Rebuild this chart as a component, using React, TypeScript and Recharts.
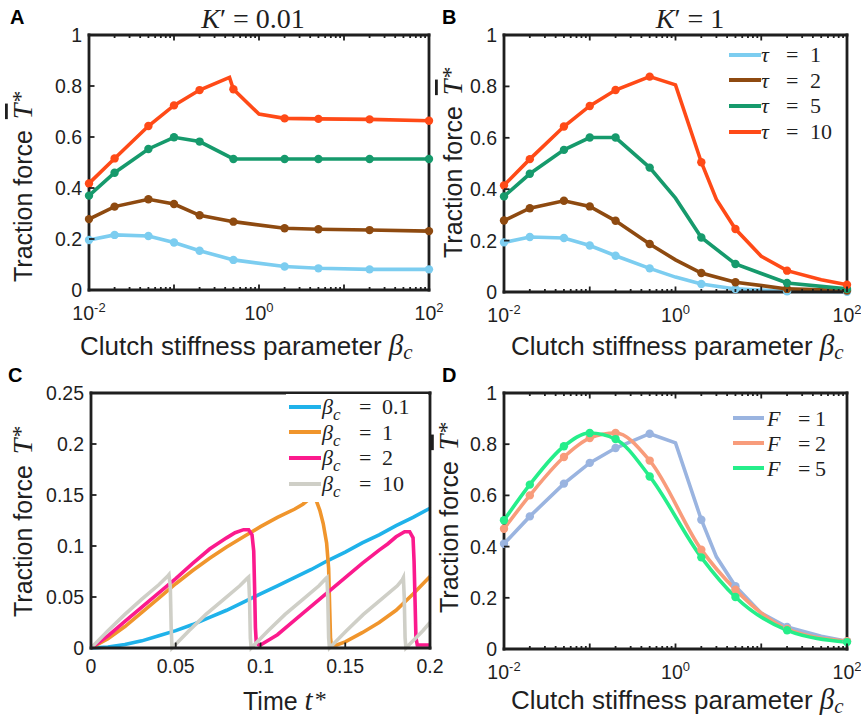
import React from 'react';
import { LineChart, Line, XAxis, YAxis, Legend } from 'recharts';

const W = 861;
const H = 720;
const SANS = '"Liberation Sans", Arial, Helvetica, sans-serif';
const SERIF = '"Liberation Serif", "Times New Roman", Times, serif';
const INK = '#1f1f1f';

// ---------------- Panel A : K' = 0.01 ----------------
const betaA = [0.01, 0.02, 0.05, 0.1, 0.2, 0.45, 0.5, 1, 2, 5, 20, 100];
const aTau1 = [0.196, 0.216, 0.212, 0.186, 0.154, null, 0.118, null, 0.092, 0.085, 0.081, 0.081];
const aTau2 = [0.278, 0.327, 0.356, 0.337, 0.293, null, 0.268, null, 0.242, 0.238, 0.235, 0.231];
const aTau5 = [0.37, 0.46, 0.553, 0.599, 0.582, null, 0.514, null, 0.514, 0.514, 0.514, 0.514];
const aTau10 = [0.418, 0.516, 0.643, 0.724, 0.784, 0.834, 0.787, 0.69, 0.673, 0.671, 0.669, 0.664];

// ---------------- Panel B : K' = 1 ----------------
const betaB = [0.01, 0.02, 0.05, 0.1, 0.2, 0.5, 1, 2, 3, 5, 10, 20, 50, 100];
const bTau1 = [0.193, 0.214, 0.21, 0.181, 0.141, 0.092, 0.058, 0.031, null, 0.012, null, 0.003, null, 0.001];
const bTau2 = [0.278, 0.326, 0.355, 0.333, 0.277, 0.187, 0.125, 0.074, null, 0.038, null, 0.012, null, 0.006];
const bTau5 = [0.372, 0.46, 0.553, 0.601, 0.601, 0.484, 0.365, 0.212, null, 0.109, null, 0.035, null, 0.012];
const bTau10 = [0.415, 0.517, 0.644, 0.724, 0.786, 0.838, 0.806, 0.505, 0.36, 0.245, 0.139, 0.083, 0.048, 0.028];

// ---------------- Panel D : varying F ----------------
const betaD = [0.01, 0.02, 0.05, 0.1, 0.2, 0.5, 1, 2, 3, 5, 10, 20, 50, 100];
const dF1 = [0.411, 0.518, 0.646, 0.727, 0.785, 0.841, 0.805, 0.505, 0.36, 0.245, 0.14, 0.086, 0.05, 0.03];
const dF2 = [0.47, 0.6, 0.75, 0.824, 0.844, 0.736, null, 0.388, null, 0.232, null, 0.078, null, 0.03];
const dF5 = [0.503, 0.642, 0.792, 0.844, 0.82, 0.674, null, 0.358, null, 0.203, null, 0.073, null, 0.027];

// β_c values that carry a marker
const markedBetas = [0.01, 0.02, 0.05, 0.1, 0.2, 0.5, 2, 5, 20, 100];

// ---------------- Panel C : time traces [t*, T*] ----------------
const cBeta01 = [
  [0, 0], [0.01, 0.001], [0.02, 0.0035], [0.03, 0.007], [0.04, 0.012], [0.05, 0.017], [0.06, 0.023],
  [0.07, 0.03], [0.08, 0.037], [0.09, 0.045], [0.1, 0.053], [0.11, 0.061], [0.12, 0.069], [0.13, 0.077],
  [0.14, 0.086], [0.15, 0.094], [0.16, 0.103], [0.17, 0.111], [0.18, 0.12], [0.19, 0.128], [0.2, 0.137],
];
const cBeta1 = [
  [0, 0], [0.01, 0.009], [0.02, 0.021], [0.03, 0.035], [0.04, 0.049], [0.05, 0.063], [0.06, 0.076],
  [0.07, 0.088], [0.08, 0.099], [0.09, 0.109], [0.1, 0.119], [0.11, 0.128], [0.12, 0.136], [0.125, 0.141],
  [0.128, 0.145], [0.131, 0.147], [0.133, 0.144], [0.135, 0.135], [0.137, 0.122], [0.139, 0.103],
  [0.1402, 0.078], [0.1408, 0.04], [0.1413, 0.01], [0.1418, 0.003], [0.145, 0.003], [0.15, 0.006],
  [0.16, 0.015], [0.17, 0.025], [0.18, 0.037], [0.19, 0.053], [0.2, 0.07],
];
const cBeta2 = [
  [0, 0], [0.01, 0.012], [0.02, 0.026], [0.03, 0.04], [0.04, 0.054], [0.05, 0.068], [0.06, 0.083],
  [0.07, 0.097], [0.08, 0.108], [0.085, 0.113], [0.09, 0.116], [0.093, 0.116], [0.095, 0.111],
  [0.096, 0.095], [0.0965, 0.06], [0.097, 0.02], [0.0975, 0.005], [0.099, 0.003], [0.1, 0.003],
  [0.11, 0.013], [0.12, 0.027], [0.13, 0.041], [0.14, 0.055], [0.15, 0.069], [0.16, 0.083], [0.17, 0.096],
  [0.175, 0.102], [0.18, 0.109], [0.185, 0.114], [0.188, 0.114], [0.19, 0.108], [0.1906, 0.085],
  [0.1912, 0.045], [0.1917, 0.01], [0.1925, 0.003], [0.2, 0.003],
];
const cBeta10 = [
  [0, 0], [0.01, 0.017], [0.02, 0.033], [0.03, 0.048], [0.04, 0.062], [0.045, 0.07], [0.046, 0.072],
  [0.0468, 0.06], [0.0473, 0.02], [0.0478, 0],
  [0.0578, 0.017], [0.0678, 0.033], [0.0778, 0.047], [0.0878, 0.061], [0.092, 0.068], [0.093, 0.0695],
  [0.0935, 0.05], [0.094, 0.01], [0.0945, 0],
  [0.1045, 0.017], [0.1145, 0.033], [0.1245, 0.047], [0.1345, 0.061], [0.1385, 0.068], [0.1392, 0.069],
  [0.1397, 0.05], [0.1402, 0.01], [0.1407, 0],
  [0.1507, 0.017], [0.1607, 0.033], [0.1707, 0.047], [0.1807, 0.061], [0.1837, 0.067], [0.1843, 0.069],
  [0.1848, 0.05], [0.1853, 0.01], [0.1858, 0],
  [0.1958, 0.017], [0.2, 0.025],
];

// ---------------- ticks ----------------
const logDecades = [0.01, 0.1, 1, 10];
const logMantissas = [1, 2, 3, 4, 5, 6, 7, 8, 9];
const logTicks = [...logDecades.flatMap((d) => logMantissas.map((m) => Number((m * d).toPrecision(6)))), 100];
const logMajors = [0.01, 0.1, 1, 10, 100];
const logLabelValues = [0.01, 1, 100];
const logLabelExps = ['-2', '0', '2'];
const fracTicks = [0, 0.2, 0.4, 0.6, 0.8, 1];
const fracLabels = ['0', '0.2', '0.4', '0.6', '0.8', '1'];
const timeTicks = [0, 0.05, 0.1, 0.15, 0.2];
const timeLabels = ['0', '0.05', '0.1', '0.15', '0.2'];
const forceTicks = [0, 0.05, 0.1, 0.15, 0.2, 0.25];
const forceLabels = ['0', '0.05', '0.1', '0.15', '0.2', '0.25'];

// ---------------- series styles ----------------
const tauSeries = [
  { key: 'tau1', color: '#7ccdf0', val: '1' },
  { key: 'tau2', color: '#8e4a10', val: '2' },
  { key: 'tau5', color: '#169a6c', val: '5' },
  { key: 'tau10', color: '#ff4a17', val: '10' },
];
const fSeries = [
  { key: 'f1', color: '#9ab4e0', val: '1', curve: 'linear' },
  { key: 'f2', color: '#f89c7b', val: '2', curve: 'monotone' },
  { key: 'f5', color: '#25ee8a', val: '5', curve: 'monotone' },
];
const cSeries = [
  { data: cBeta01, color: '#1fb2ea', val: '0.1' },
  { data: cBeta1, color: '#f0952c', val: '1' },
  { data: cBeta2, color: '#fb1a8d', val: '2' },
  { data: cBeta10, color: '#cfcfc7', val: '10' },
];

type Box = { l: number; r: number; t: number; b: number };
const BOX_A: Box = { l: 89, r: 429, t: 35, b: 290 };
const BOX_B: Box = { l: 504, r: 847, t: 35, b: 292 };
const BOX_C: Box = { l: 91, r: 430, t: 393, b: 648 };
const BOX_D: Box = { l: 504, r: 847, t: 393, b: 649 };

const near = (a: number, b: number) => Math.abs(a - b) <= 1e-9 * Math.max(Math.abs(a), Math.abs(b), 1e-9);
const fromList = (vals: number[], labels: string[]) => (v: number) => {
  const i = vals.findIndex((x) => near(x, v));
  return i >= 0 ? labels[i] : null;
};
const logLabel = (v: number) => {
  const i = logLabelValues.findIndex((x) => near(x, v));
  if (i < 0) return null;
  return [
    <tspan key="m">10</tspan>,
    <tspan key="e" dy={-8} fontSize={13}>{logLabelExps[i]}</tspan>,
  ];
};
const noLabel = () => null;
const allMajor = () => true;

type Side = 'bottom' | 'top' | 'left' | 'right';
function makeTick(side: Side, isMajor: (v: number) => boolean, label: (v: number) => any, gap: number) {
  return (p: any) => {
    const v: number = p.payload ? p.payload.value : 0;
    const x: number = p.x;
    const y: number = p.y;
    const len = isMajor(v) ? 5.5 : 3;
    let d = '';
    if (side === 'bottom') d = `M${x},${y}L${x},${y - len}`;
    else if (side === 'top') d = `M${x},${y}L${x},${y + len}`;
    else if (side === 'left') d = `M${x},${y}L${x + len},${y}`;
    else d = `M${x},${y}L${x - len},${y}`;
    const lab = label(v);
    return (
      <g>
        <path d={d} stroke={INK} strokeWidth={1.8} fill="none" />
        {lab != null && side === 'bottom' && (
          <text x={x} y={y + gap} textAnchor="middle" fontFamily={SANS} fontSize={19.5} fill={INK}>
            {lab}
          </text>
        )}
        {lab != null && side === 'left' && (
          <text x={x - gap} y={y + 7} textAnchor="end" fontFamily={SANS} fontSize={19.5} fill={INK}>
            {lab}
          </text>
        )}
      </g>
    );
  };
}

const AXIS_LINE = { stroke: INK, strokeWidth: 2.8, strokeLinecap: 'square' as const };

type XCfg = { key: string; scale: 'log' | 'linear'; domain: [number, number]; ticks: number[]; isMajor: (v: number) => boolean; label: (v: number) => any; gap: number };
type YCfg = { domain: [number, number]; ticks: number[]; label: (v: number) => any };
type Titles = { bottom?: () => any; top?: () => any; left?: () => any };

function frameAxes(box: Box, x: XCfg, y: YCfg, titles: Titles) {
  return [
    <XAxis
      key="xb" xAxisId="b" orientation="bottom" dataKey={x.key} type="number" scale={x.scale}
      domain={x.domain} ticks={x.ticks} interval={0} height={H - box.b} tickSize={0} tickMargin={0}
      tickLine={false} axisLine={AXIS_LINE} tick={makeTick('bottom', x.isMajor, x.label, x.gap)}
      label={titles.bottom ? { content: titles.bottom } : undefined}
    />,
    <XAxis
      key="xt" xAxisId="t" orientation="top" dataKey={x.key} type="number" scale={x.scale}
      domain={x.domain} ticks={x.ticks} interval={0} height={1} tickSize={0} tickMargin={0}
      tickLine={false} axisLine={AXIS_LINE} tick={makeTick('top', x.isMajor, noLabel, 0)}
      label={titles.top ? { content: titles.top } : undefined}
    />,
    <YAxis
      key="yl" yAxisId="l" orientation="left" type="number" domain={y.domain} ticks={y.ticks}
      interval={0} width={box.l} tickSize={0} tickMargin={0} tickLine={false} axisLine={AXIS_LINE}
      tick={makeTick('left', allMajor, y.label, 7)}
      label={titles.left ? { content: titles.left } : undefined}
    />,
    <YAxis
      key="yr" yAxisId="r" orientation="right" type="number" domain={y.domain} ticks={y.ticks}
      interval={0} width={1} tickSize={0} tickMargin={0} tickLine={false} axisLine={AXIS_LINE}
      tick={makeTick('right', allMajor, noLabel, 0)}
    />,
  ];
}

const chartMargin = (box: Box) => ({ top: box.t - 1, right: W - box.r - 1, bottom: 0, left: 0 });

const logX: XCfg = {
  key: 'beta', scale: 'log', domain: [0.01, 100], ticks: logTicks,
  isMajor: (v) => logMajors.some((m) => near(m, v)), label: logLabel, gap: 30,
};
const fracY: YCfg = { domain: [0, 1], ticks: fracTicks, label: fromList(fracTicks, fracLabels) };

// ---------------- text pieces ----------------
function PanelLetter({ x, y, ch }: { x: number; y: number; ch: string }) {
  return (
    <text x={x} y={y} fontFamily={SANS} fontWeight="bold" fontSize={20} fill="#000">{ch}</text>
  );
}
function KTitle({ cx, val }: { cx: number; val: string }) {
  return (
    <text x={cx} y={28} textAnchor="middle" fontFamily={SERIF} fontSize={28} fill={INK}>
      <tspan fontStyle="italic">K</tspan>
      <tspan>{'\u2032 = ' + val}</tspan>
    </text>
  );
}
function BetaTitle({ x, y }: { x: number; y: number }) {
  return (
    <text x={x} y={y} fontFamily={SANS} fontSize={26} fill={INK}>
      {'Clutch stiffness parameter '}
      <tspan fontFamily={SERIF} fontStyle="italic" fontSize={29}>β</tspan>
      <tspan fontFamily={SERIF} fontStyle="italic" fontSize={21} dy={4}>c</tspan>
    </text>
  );
}
function ForceTitle({ x, y, bar }: { x: number; y: number; bar: boolean }) {
  return (
    <text transform={`translate(${x},${y}) rotate(-90)`} fontFamily={SANS} fontSize={25} fill={INK}>
      {'Traction force '}
      <tspan dx={4} fontFamily={SERIF} fontStyle="italic" fontSize={28} style={bar ? { textDecoration: 'overline' } : undefined}>T</tspan>
      <tspan dx={1} dy={-4} fontFamily={SERIF} fontSize={24}>*</tspan>
    </text>
  );
}

// ---------------- legends ----------------
type LegItem = { color: string; sym: any; val: string };
function LegendRows({ items, rowH, width, bg, padB, sw, symL, eqL, valL }: {
  items: LegItem[]; rowH: number; width: number; bg: string; padB: number; sw: [number, number]; symL: number; eqL: number; valL: number;
}) {
  return (
    <div style={{ position: 'relative', width, height: items.length * rowH + padB, background: bg, fontFamily: SERIF, fontSize: 22, color: INK }}>
      {items.map((it, i) => (
        <div key={i} style={{ position: 'absolute', left: 0, top: i * rowH, width: '100%', height: rowH }}>
          <div style={{ position: 'absolute', left: sw[0], width: sw[1], top: rowH / 2 - 2, height: 4, background: it.color }} />
          <span style={{ position: 'absolute', left: symL, top: 0, lineHeight: `${rowH}px`, whiteSpace: 'nowrap' }}>{it.sym}</span>
          <span style={{ position: 'absolute', left: eqL, top: 0, lineHeight: `${rowH}px` }}>=</span>
          <span style={{ position: 'absolute', left: valL, top: 0, lineHeight: `${rowH}px` }}>{it.val}</span>
        </div>
      ))}
    </div>
  );
}
const tauSym = <i>τ</i>;
const fSym = <i>F</i>;
const betaSym = (
  <span>
    <i>β</i>
    <i style={{ fontSize: 17, position: 'relative', top: 6 }}>c</i>
  </span>
);

const markerDot = (color: string) => (p: any) => {
  const ok = p && p.payload && p.cy != null && p.value != null && markedBetas.some((m) => near(m, p.payload.beta));
  if (!ok) return <g key={`d${p.index}`} />;
  return <circle key={`d${p.index}`} cx={p.cx} cy={p.cy} r={4.2} fill={color} stroke="none" />;
};

const layer: React.CSSProperties = { position: 'absolute', left: 0, top: 0 };

function PanelA() {
  const rows = betaA.map((b, i) => ({ beta: b, tau1: aTau1[i], tau2: aTau2[i], tau5: aTau5[i], tau10: aTau10[i] }));
  return (
    <div style={layer}>
      <LineChart width={W} height={H} data={rows} margin={chartMargin(BOX_A)}>
        {frameAxes(BOX_A, logX, fracY, {
          bottom: () => <BetaTitle x={80} y={355} />,
          top: () => (
            <g>
              <PanelLetter x={10} y={23.5} ch="A" />
              <KTitle cx={253} val="0.01" />
            </g>
          ),
          left: () => <ForceTitle x={32} y={282} bar />,
        })}
        {tauSeries.map((s) => (
          <Line key={s.key} xAxisId="b" yAxisId="l" dataKey={s.key} type="linear" stroke={s.color} strokeWidth={3.6}
            dot={markerDot(s.color)} activeDot={false} connectNulls isAnimationActive={false} />
        ))}
      </LineChart>
    </div>
  );
}

function PanelB() {
  const rows = betaB.map((b, i) => ({ beta: b, tau1: bTau1[i], tau2: bTau2[i], tau5: bTau5[i], tau10: bTau10[i] }));
  return (
    <div style={layer}>
      <LineChart width={W} height={H} data={rows} margin={chartMargin(BOX_B)}>
        {frameAxes(BOX_B, logX, fracY, {
          bottom: () => <BetaTitle x={511} y={355} />,
          top: () => (
            <g>
              <PanelLetter x={442} y={23.5} ch="B" />
              <KTitle cx={690} val="1" />
            </g>
          ),
          left: () => <ForceTitle x={462} y={258} bar />,
        })}
        {tauSeries.map((s) => (
          <Line key={s.key} xAxisId="b" yAxisId="l" dataKey={s.key} type="linear" stroke={s.color} strokeWidth={3.6}
            dot={markerDot(s.color)} activeDot={false} connectNulls isAnimationActive={false} />
        ))}
        <Legend
          layout="vertical" align="center" verticalAlign="middle"
          wrapperStyle={{ left: 729, top: 42, width: 115 }}
          content={() => (
            <LegendRows items={tauSeries.map((s) => ({ color: s.color, sym: tauSym, val: s.val }))}
              rowH={25.6} width={115} bg="transparent" padB={0} sw={[0, 32]} symL={32} eqL={57} valL={81} />
          )}
        />
      </LineChart>
    </div>
  );
}

function PanelC() {
  const timeX: XCfg = {
    key: 't', scale: 'linear', domain: [0, 0.2], ticks: timeTicks, isMajor: allMajor,
    label: fromList(timeTicks, timeLabels), gap: 25,
  };
  const forceY: YCfg = { domain: [0, 0.25], ticks: forceTicks, label: fromList(forceTicks, forceLabels) };
  return (
    <div style={layer}>
      <LineChart width={W} height={H} margin={chartMargin(BOX_C)}>
        {frameAxes(BOX_C, timeX, forceY, {
          bottom: () => (
            <text x={243} y={710} fontFamily={SANS} fontSize={25} fill={INK}>
              {'Time '}
              <tspan fontFamily={SERIF} fontStyle="italic" fontSize={29}>t</tspan>
              <tspan dx={2} dy={-3} fontFamily={SERIF} fontSize={24}>*</tspan>
            </text>
          ),
          top: () => <PanelLetter x={8} y={382} ch="C" />,
          left: () => <ForceTitle x={32} y={617} bar={false} />,
        })}
        {cSeries.map((s, i) => (
          <Line key={i} xAxisId="b" yAxisId="l" data={s.data.map(([t, v]) => ({ t, v }))} dataKey="v" type="linear"
            stroke={s.color} strokeWidth={3.6} dot={false} activeDot={false} isAnimationActive={false} />
        ))}
        <Legend
          layout="vertical" align="center" verticalAlign="middle"
          wrapperStyle={{ left: 286, top: 394, width: 142 }}
          content={() => (
            <LegendRows items={cSeries.map((s) => ({ color: s.color, sym: betaSym, val: s.val }))}
              rowH={25.6} width={142} bg="#ffffff" padB={5.6} sw={[3, 32]} symL={36} eqL={73} valL={96} />
          )}
        />
      </LineChart>
    </div>
  );
}

function PanelD() {
  const rows = betaD.map((b, i) => ({ beta: b, f1: dF1[i], f2: dF2[i], f5: dF5[i] }));
  return (
    <div style={layer}>
      <LineChart width={W} height={H} data={rows} margin={chartMargin(BOX_D)}>
        {frameAxes(BOX_D, logX, fracY, {
          bottom: () => <BetaTitle x={511} y={709} />,
          top: () => <PanelLetter x={442} y={382} ch="D" />,
          left: () => <ForceTitle x={458} y={613} bar />,
        })}
        {fSeries.map((s) => (
          <Line key={s.key} xAxisId="b" yAxisId="l" dataKey={s.key} type={s.curve as any} stroke={s.color} strokeWidth={3.6}
            dot={markerDot(s.color)} activeDot={false} connectNulls isAnimationActive={false} />
        ))}
        <Legend
          layout="vertical" align="center" verticalAlign="middle"
          wrapperStyle={{ left: 733, top: 405.5, width: 105 }}
          content={() => (
            <LegendRows items={fSeries.map((s) => ({ color: s.color, sym: fSym, val: s.val }))}
              rowH={25} width={105} bg="transparent" padB={0} sw={[0, 31]} symL={34} eqL={65} valL={82} />
          )}
        />
      </LineChart>
    </div>
  );
}

export default function App() {
  return (
    <div style={{ position: 'absolute', left: 0, top: 0, width: W, height: H, background: '#fff', overflow: 'hidden' }}>
      <PanelA />
      <PanelB />
      <PanelC />
      <PanelD />
    </div>
  );
}
